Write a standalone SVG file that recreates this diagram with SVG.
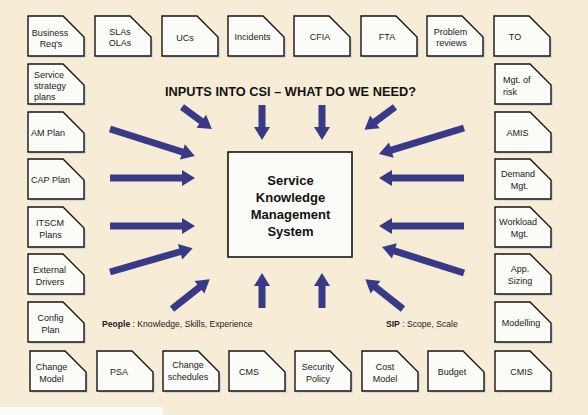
<svg xmlns="http://www.w3.org/2000/svg" xmlns:xlink="http://www.w3.org/1999/xlink" width="588" height="415" viewBox="0 0 588 415">
<style>
.bg{fill:#f7edd6}
.doc{fill:#fbfbf7;stroke:#141414;stroke-width:1.4}
.shd{fill:#c9cbdc;opacity:0.7}
.t{font-family:"Liberation Sans",Arial,sans-serif;font-size:9px;fill:#1a1a1a;text-anchor:middle}
.tl{text-anchor:start}
.arr{fill:#383a88}
.title{font-family:"Liberation Sans",Arial,sans-serif;font-weight:bold;font-size:13px;fill:#111;text-anchor:middle}
.core{font-family:"Liberation Sans",Arial,sans-serif;font-weight:bold;font-size:13px;fill:#111;text-anchor:middle}
.lab{font-family:"Liberation Sans",Arial,sans-serif;font-size:8.6px;fill:#1a1a1a}
.b{font-weight:bold}
</style>
<defs>
<path id="doc" d="M0,0 H35 L56,21 V40 H0 Z"/>
</defs>
<rect class="bg" x="0" y="0" width="588" height="415"/>
<rect x="0" y="407" width="163" height="8" fill="#fdfcf8"/>

<text class="title" x="290.5" y="96" textLength="251" lengthAdjust="spacingAndGlyphs">INPUTS INTO CSI – WHAT DO WE NEED?</text>

<g id="connectors">
<path class="arr" transform="translate(182,107) rotate(36.3)" d="M0,-3.5 H24 V-8 L37,0 L24,8 V3.5 H0 Z"/>
<path class="arr" transform="translate(262,105) rotate(90)" d="M0,-3.5 H22 V-8 L35,0 L22,8 V3.5 H0 Z"/>
<path class="arr" transform="translate(322,105) rotate(90)" d="M0,-3.5 H22 V-8 L35,0 L22,8 V3.5 H0 Z"/>
<path class="arr" transform="translate(395,107) rotate(143.4)" d="M0,-3.5 H25 V-8 L38,0 L25,8 V3.5 H0 Z"/>
<path class="arr" transform="translate(110,129) rotate(17.6)" d="M0,-3.5 H76 V-8 L89,0 L76,8 V3.5 H0 Z"/>
<path class="arr" transform="translate(110,178)" d="M0,-3.5 H72 V-8 L85,0 L72,8 V3.5 H0 Z"/>
<path class="arr" transform="translate(110,226)" d="M0,-3.5 H72 V-8 L85,0 L72,8 V3.5 H0 Z"/>
<path class="arr" transform="translate(110,272) rotate(-16.1)" d="M0,-3.5 H73 V-8 L86,0 L73,8 V3.5 H0 Z"/>
<path class="arr" transform="translate(464,128) rotate(163)" d="M0,-3.5 H76 V-8 L89,0 L76,8 V3.5 H0 Z"/>
<path class="arr" transform="translate(464,178) rotate(180)" d="M0,-3.5 H72 V-8 L85,0 L72,8 V3.5 H0 Z"/>
<path class="arr" transform="translate(464,226) rotate(180)" d="M0,-3.5 H72 V-8 L85,0 L72,8 V3.5 H0 Z"/>
<path class="arr" transform="translate(464,273) rotate(197.6)" d="M0,-3.5 H73 V-8 L86,0 L73,8 V3.5 H0 Z"/>
<path class="arr" transform="translate(172,309) rotate(-38.3)" d="M0,-3.5 H35 V-8 L48,0 L35,8 V3.5 H0 Z"/>
<path class="arr" transform="translate(262,308) rotate(-90)" d="M0,-3.5 H22 V-8 L35,0 L22,8 V3.5 H0 Z"/>
<path class="arr" transform="translate(322,308) rotate(-90)" d="M0,-3.5 H22 V-8 L35,0 L22,8 V3.5 H0 Z"/>
<path class="arr" transform="translate(403,309) rotate(218.3)" d="M0,-3.5 H35 V-8 L48,0 L35,8 V3.5 H0 Z"/>
</g>

<g id="skms">
<rect x="228" y="152" width="124" height="105" fill="#fbfbf7" stroke="#141414" stroke-width="1.6"/>
<text class="core" x="290.5" y="185">Service</text>
<text class="core" x="290.5" y="202">Knowledge</text>
<text class="core" x="290.5" y="219">Management</text>
<text class="core" x="290.5" y="236">System</text>
</g>

<text class="lab" x="102" y="327"><tspan class="b">People</tspan> : Knowledge, Skills, Experience</text>
<text class="lab" x="386" y="327"><tspan class="b">SIP</tspan> : Scope, Scale</text>

<!-- top row -->
<g id="business-reqs"><use href="#doc" x="30" y="18" class="shd"/><use href="#doc" x="28" y="16" class="doc"/><text class="t" x="50" y="35.5">Business</text><text class="t" x="51" y="47">Req's</text></g>
<g id="slas-olas"><use href="#doc" x="97" y="18" class="shd"/><use href="#doc" x="95" y="16" class="doc"/><text class="t" x="120" y="34.5">SLAs</text><text class="t" x="120" y="46">OLAs</text></g>
<g id="ucs"><use href="#doc" x="164" y="18" class="shd"/><use href="#doc" x="162" y="16" class="doc"/><text class="t" x="185" y="41">UCs</text></g>
<g id="incidents"><use href="#doc" x="230" y="18" class="shd"/><use href="#doc" x="228" y="16" class="doc"/><text class="t" x="252.5" y="40">Incidents</text></g>
<g id="cfia"><use href="#doc" x="296" y="18" class="shd"/><use href="#doc" x="294" y="16" class="doc"/><text class="t" x="320" y="40">CFIA</text></g>
<g id="fta"><use href="#doc" x="363" y="18" class="shd"/><use href="#doc" x="361" y="16" class="doc"/><text class="t" x="387" y="40">FTA</text></g>
<g id="problem-reviews"><use href="#doc" x="429" y="18" class="shd"/><use href="#doc" x="427" y="16" class="doc"/><text class="t" x="450.5" y="34.5">Problem</text><text class="t" x="451.5" y="46">reviews</text></g>
<g id="to"><use href="#doc" x="496" y="18" class="shd"/><use href="#doc" x="494" y="16" class="doc"/><text class="t" x="515" y="40">TO</text></g>

<!-- left column -->
<g id="service-strategy-plans"><use href="#doc" x="30" y="66" class="shd"/><use href="#doc" x="28" y="64" class="doc"/><text class="t tl" x="34" y="78">Service</text><text class="t tl" x="34" y="89">strategy</text><text class="t tl" x="34" y="100">plans</text></g>
<g id="am-plan"><use href="#doc" x="30" y="114" class="shd"/><use href="#doc" x="28" y="112" class="doc"/><text class="t" x="48" y="136">AM Plan</text></g>
<g id="cap-plan"><use href="#doc" x="30" y="161" class="shd"/><use href="#doc" x="28" y="159" class="doc"/><text class="t" x="50.5" y="183">CAP Plan</text></g>
<g id="itscm-plans"><use href="#doc" x="30" y="209" class="shd"/><use href="#doc" x="28" y="207" class="doc"/><text class="t" x="50" y="226">ITSCM</text><text class="t" x="50.5" y="237.5">Plans</text></g>
<g id="external-drivers"><use href="#doc" x="30" y="256" class="shd"/><use href="#doc" x="28" y="254" class="doc"/><text class="t" x="49.5" y="273">External</text><text class="t" x="50" y="284.5">Drivers</text></g>
<g id="config-plan"><use href="#doc" x="30" y="304" class="shd"/><use href="#doc" x="28" y="302" class="doc"/><text class="t" x="50.5" y="321">Config</text><text class="t" x="50.5" y="332.5">Plan</text></g>

<!-- bottom row -->
<g id="change-model"><use href="#doc" x="32" y="353" class="shd"/><use href="#doc" x="30" y="351" class="doc"/><text class="t" x="51.5" y="370">Change</text><text class="t" x="51.5" y="381.5">Model</text></g>
<g id="psa"><use href="#doc" x="99" y="353" class="shd"/><use href="#doc" x="97" y="351" class="doc"/><text class="t" x="119" y="375">PSA</text></g>
<g id="change-schedules"><use href="#doc" x="165" y="353" class="shd"/><use href="#doc" x="163" y="351" class="doc"/><text class="t" x="188" y="368">Change</text><text class="t" x="188" y="379.5">schedules</text></g>
<g id="cms"><use href="#doc" x="231" y="353" class="shd"/><use href="#doc" x="229" y="351" class="doc"/><text class="t" x="249" y="375">CMS</text></g>
<g id="security-policy"><use href="#doc" x="297" y="353" class="shd"/><use href="#doc" x="295" y="351" class="doc"/><text class="t" x="318" y="370">Security</text><text class="t" x="318" y="381.5">Policy</text></g>
<g id="cost-model"><use href="#doc" x="364" y="353" class="shd"/><use href="#doc" x="362" y="351" class="doc"/><text class="t" x="385" y="370">Cost</text><text class="t" x="385" y="381.5">Model</text></g>
<g id="budget"><use href="#doc" x="430" y="353" class="shd"/><use href="#doc" x="428" y="351" class="doc"/><text class="t" x="452" y="375">Budget</text></g>
<g id="cmis"><use href="#doc" x="497" y="353" class="shd"/><use href="#doc" x="495" y="351" class="doc"/><text class="t" x="521.5" y="375">CMIS</text></g>

<!-- right column -->
<g id="mgt-of-risk"><use href="#doc" x="497" y="66" class="shd"/><use href="#doc" x="495" y="64" class="doc"/><text class="t tl" x="503" y="83">Mgt. of</text><text class="t tl" x="503" y="94.5">risk</text></g>
<g id="amis"><use href="#doc" x="497" y="114" class="shd"/><use href="#doc" x="495" y="112" class="doc"/><text class="t" x="517.5" y="136">AMIS</text></g>
<g id="demand-mgt"><use href="#doc" x="497" y="161" class="shd"/><use href="#doc" x="495" y="159" class="doc"/><text class="t" x="518" y="177">Demand</text><text class="t" x="519.5" y="188.5">Mgt.</text></g>
<g id="workload-mgt"><use href="#doc" x="497" y="209" class="shd"/><use href="#doc" x="495" y="207" class="doc"/><text class="t" x="518" y="225">Workload</text><text class="t" x="519.5" y="236.5">Mgt.</text></g>
<g id="app-sizing"><use href="#doc" x="497" y="256" class="shd"/><use href="#doc" x="495" y="254" class="doc"/><text class="t" x="520" y="272">App.</text><text class="t" x="520" y="283.5">Sizing</text></g>
<g id="modelling"><use href="#doc" x="497" y="304" class="shd"/><use href="#doc" x="495" y="302" class="doc"/><text class="t" x="521" y="326">Modelling</text></g>
</svg>
